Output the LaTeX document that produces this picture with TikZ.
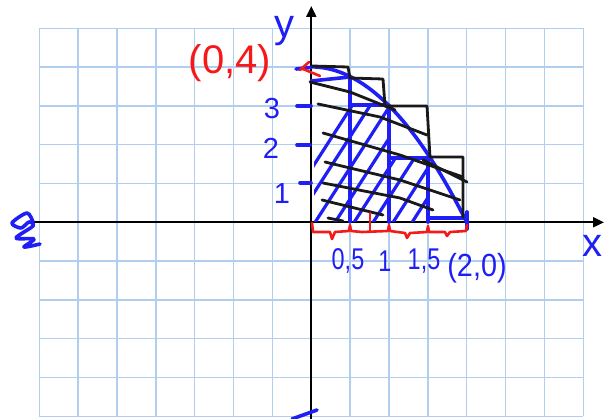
\documentclass[tikz,border=0pt]{standalone}
\usepackage{fontspec}
\setmainfont{Liberation Sans}
\usetikzlibrary{arrows.meta}
\definecolor{gridc}{RGB}{178,206,238}
\definecolor{penblue}{RGB}{30,30,245}
\definecolor{penred}{RGB}{245,25,25}
\definecolor{penblack}{RGB}{25,25,25}
\begin{document}
\begin{tikzpicture}[x=1pt,y=-1pt,
  gridline/.style={draw=gridc,line width=1.4pt},
  axisline/.style={draw=black,line width=2pt,-{Triangle[length=11pt,width=10pt]}},
  bluepen/.style={draw=penblue,line width=3.6pt,line cap=round,line join=round},
  bluehatch/.style={draw=penblue,line width=3.2pt,line cap=round},
  blackpen/.style={draw=penblack,line width=2.8pt,line cap=round,line join=round},
  redpen/.style={draw=penred,line width=2.6pt,line cap=round,line join=round},
  bluelabel/.style={text=penblue,inner sep=0pt,font=\fontsize{29}{29}\selectfont},
  ticklabel/.style={text=penblue,inner sep=0pt,font=\fontsize{30}{30}\selectfont,xscale=0.78},
  redlabel/.style={text=penred,inner sep=0pt,font=\fontsize{40}{40}\selectfont}]
\useasboundingbox (0,0) rectangle (605,419);
% grid
\foreach \i in {0,...,14} \draw[gridline] ({39.3+38.86*\i},28.3) -- ({39.3+38.86*\i},416.3);
\foreach \j in {0,...,10} \draw[gridline] (39.3,{28.3+38.8*\j}) -- (583.3,{28.3+38.8*\j});
% axes
\coordinate (xl) at (30,222.3);
\coordinate (xr) at (604,222.3);
\coordinate (yb) at (311.3,419);
\coordinate (yt) at (311.3,6);
\draw[axisline] (xl) -- (xr);
\draw[axisline] (yb) -- (yt);
% blue hatching of the lower sum
\begin{scope}
\clip (314,222) -- (314,84) -- (350,79) -- (350,106) -- (389,106) -- (389,158) -- (428,158) -- (428,222) -- cycle;
\foreach \b in {276,294,314,334,353,372,392,411}
  \draw[bluehatch] (\b,224) -- ++(90,-140);
\end{scope}
% parabola and lower rectangles
\draw[bluepen] (296,69) -- (311.3,67.4);
\draw[bluepen] plot[domain=0:2,samples=40,smooth] ({311.3+77.72*\x},{222.3-38.86*(4-\x*\x)});
\draw[bluepen] (311,81) -- (350,77) -- (350,222);
\draw[bluepen] (350,105) -- (389,105) -- (389,222);
\draw[bluepen] (389,158) -- (428,158) -- (428,222);
\draw[bluepen] (428,218) -- (467,218);
\draw[bluepen] (467,212) -- (467,229);
% y ticks
\draw[bluepen] (297,106) -- (311,106);
\draw[bluepen] (297,145) -- (310,145);
\draw[bluepen] (300,183) -- (311,183);
% black upper sum
\draw[blackpen] (312,66) -- (348,67) -- (350,78) -- (383,79) -- (385,106) -- (427,106) -- (430,157) -- (463,157) -- (463,217);
\draw[blackpen] (310,82) -- (350,92) -- (395,110);
\draw[blackpen] (318,104) -- (380,117) -- (427,135);
\draw[blackpen] (323,133) -- (400,155) -- (463,177);
\draw[blackpen] (325,162) -- (400,180) -- (460,200);
\draw[blackpen] (423,160) -- (467,182);
\draw[blackpen] (323,183) -- (400,198) -- (433,210);
\draw[blackpen] (322,200) -- (383,215);
\draw[blackpen] (328,218) -- (343,221);
% red marks
\draw[redpen] (312,223) -- (313,232) -- (330,232) -- (332,239) -- (335,232) -- (349,231) -- (350,225) -- (351,231) -- (362,232) -- (388,231) -- (389,225) -- (390,231) -- (405,233) -- (407,238) -- (410,233) -- (427,232) -- (428,226) -- (429,232) -- (445,232) -- (447,236) -- (450,232) -- (466,231) -- (467,225);
\draw[redpen] (370,213) -- (370,232);
\draw[redpen] (300,70) -- (309,62);
\draw[redpen] (303,69) -- (320,76);
% left end scribble and bottom scribble
\draw[bluepen] plot[smooth] coordinates {(33,222) (27,213) (12,223) (21,228) (29,222) (33,226) (16,238) (34,239) (24,247) (40,244)};
\draw[bluepen] (292,419) -- (317,410);
% labels
\node[text=penblue,inner sep=0pt,font=\fontsize{40}{40}\selectfont,anchor=base] (ylab) at (284,38) {y};
\node[redlabel] (p04) at (230,63) {(0,4)};
\node[bluelabel] (l3) at (272,109) {3};
\node[bluelabel] (l2) at (271,148) {2};
\node[bluelabel] (l1) at (282,194) {1};
\node[ticklabel] (l05) at (348,261) {0,5};
\node[ticklabel] (l1x) at (385,261) {1};
\node[ticklabel] (l15) at (424,261) {1,5};
\node[text=penblue,inner sep=0pt,font=\fontsize{32}{32}\selectfont,xscale=0.9] (l20) at (477,268) {(2,0)};
\node[bluelabel,font=\fontsize{40}{40}\selectfont] (xlab) at (592,246) {x};
\end{tikzpicture}
\end{document}
